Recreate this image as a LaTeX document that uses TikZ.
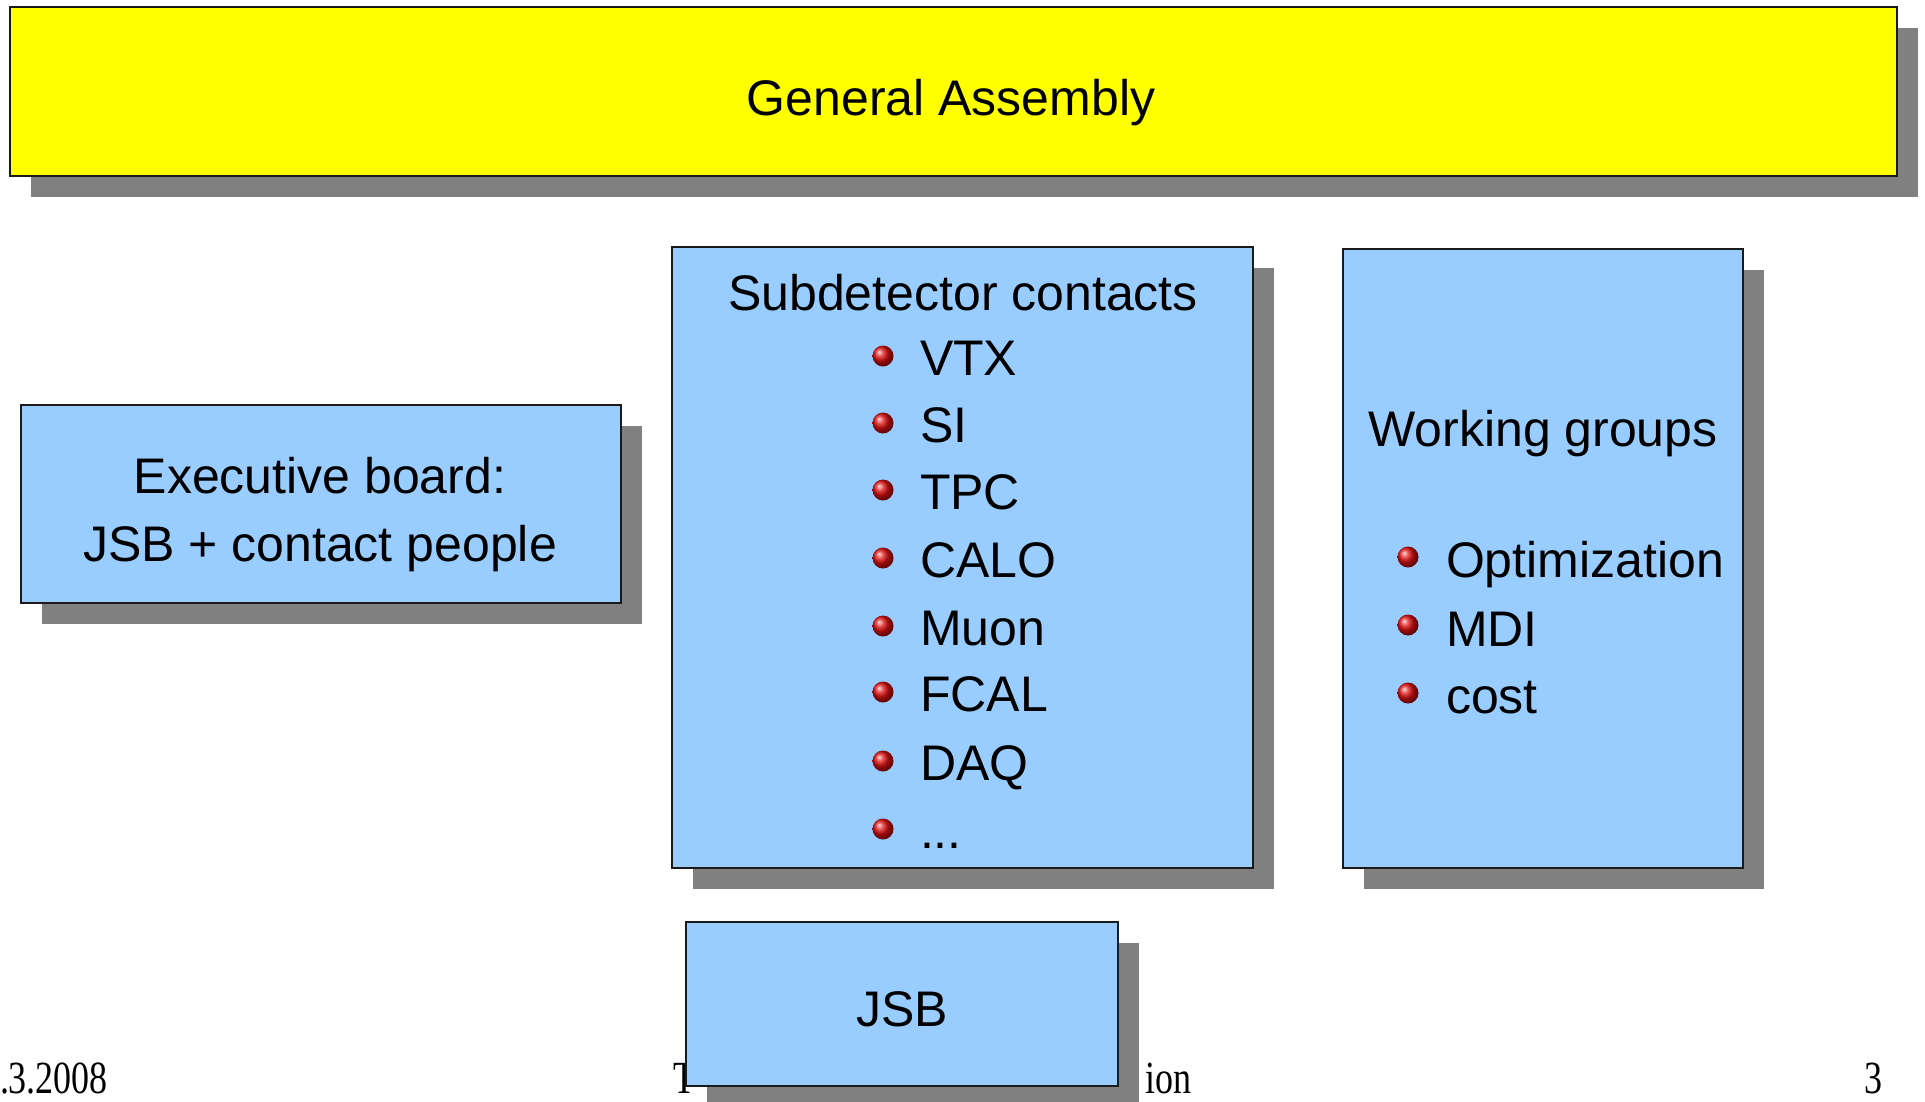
\documentclass[tikz,border=0pt]{standalone}
\usepackage{fontspec}
\setmainfont{Liberation Sans}
\newfontfamily\footfont{Liberation Serif}
\usetikzlibrary{shadows}
\definecolor{boxblue}{HTML}{99CCFF}
\definecolor{boxyellow}{HTML}{FFFF00}
\definecolor{shadowgray}{HTML}{808080}
\definecolor{edgecol}{HTML}{1A1A1A}
\definecolor{bulletred}{HTML}{E01010}
\begin{document}
\begin{tikzpicture}[x=1pt,y=-1pt,
  panel/.style={draw=edgecol, line width=1.5pt, inner sep=0pt, outer sep=0pt, anchor=north west,
    drop shadow={shadow xshift=21pt, shadow yshift=-21pt, fill=shadowgray, opacity=1}},
  bluepanel/.style={panel, fill=boxblue},
  yellowpanel/.style={panel, fill=boxyellow},
  label/.style={inner sep=0pt, outer sep=0pt, font=\fontsize{50}{60}\selectfont, text=black},
  item/.style={label, anchor=base west},
  title/.style={label, anchor=base},
  bulletball/.style={circle, inner sep=0pt, minimum size=21pt, shading=ball, ball color=bulletred},
  foot/.style={inner sep=0pt, outer sep=0pt, font=\footfont\fontsize{36}{40}\selectfont}
]
\useasboundingbox (0,0) rectangle (1925,1101);
\fill[white] (0,0) rectangle (1925,1101);

% footer
\node[foot, anchor=base west] (fdate) at (0,1093) {\scalebox{1}[1.28]{.3.2008}};
\node[foot, anchor=base west] (ftitleA) at (673,1093) {\scalebox{1}[1.28]{T}};
\node[foot, anchor=base east] (ftitleB) at (1191,1093) {\scalebox{1}[1.28]{ion}};
\node[foot, anchor=base east] (fpage) at (1882,1093) {\scalebox{1}[1.28]{3}};

% boxes
\node[yellowpanel, minimum width=1887pt, minimum height=169pt] (ga) at (10,7) {};
\node[bluepanel, minimum width=600pt, minimum height=198pt] (eb) at (21,405) {};
\node[bluepanel, minimum width=581pt, minimum height=621pt] (sd) at (672,247) {};
\node[bluepanel, minimum width=400pt, minimum height=619pt] (wg) at (1343,249) {};
\node[bluepanel, minimum width=432pt, minimum height=164pt] (jsb) at (686,922) {};

% texts
\node[title] (gatext) at (951,115) {General Assembly};
\node[title] (ebtext1) at (320,493) {Executive board:};
\node[title] (ebtext2) at (320,561) {JSB + contact people};
\node[title] (sdtext) at (963,310) {Subdetector contacts};
\node[title] (wgtext) at (1543,446) {Working groups};
\node[title] (jsbtext) at (902,1026) {JSB};

% subdetector items
\foreach \t/\yb [count=\i] in {VTX/375,SI/442,TPC/509,CALO/577,Muon/645,FCAL/711,DAQ/780}{
  \node[bulletball] (sdb\i) at (883,\yb-19) {};
  \node[item] (sdi\i) at (920,\yb) {\t};
}
\node[bulletball] (sdb8) at (883,829) {};
\node[item] (sdi8) at (920,848) {...};

% working group items
\node[bulletball] (wgb1) at (1408,557) {};
\node[item] (wgi1) at (1446,577) {Optimization};
\node[bulletball] (wgb2) at (1408,625) {};
\node[item] (wgi2) at (1446,646) {MDI};
\node[bulletball] (wgb3) at (1408,693) {};
\node[item] (wgi3) at (1446,713) {cost};
\end{tikzpicture}
\end{document}
